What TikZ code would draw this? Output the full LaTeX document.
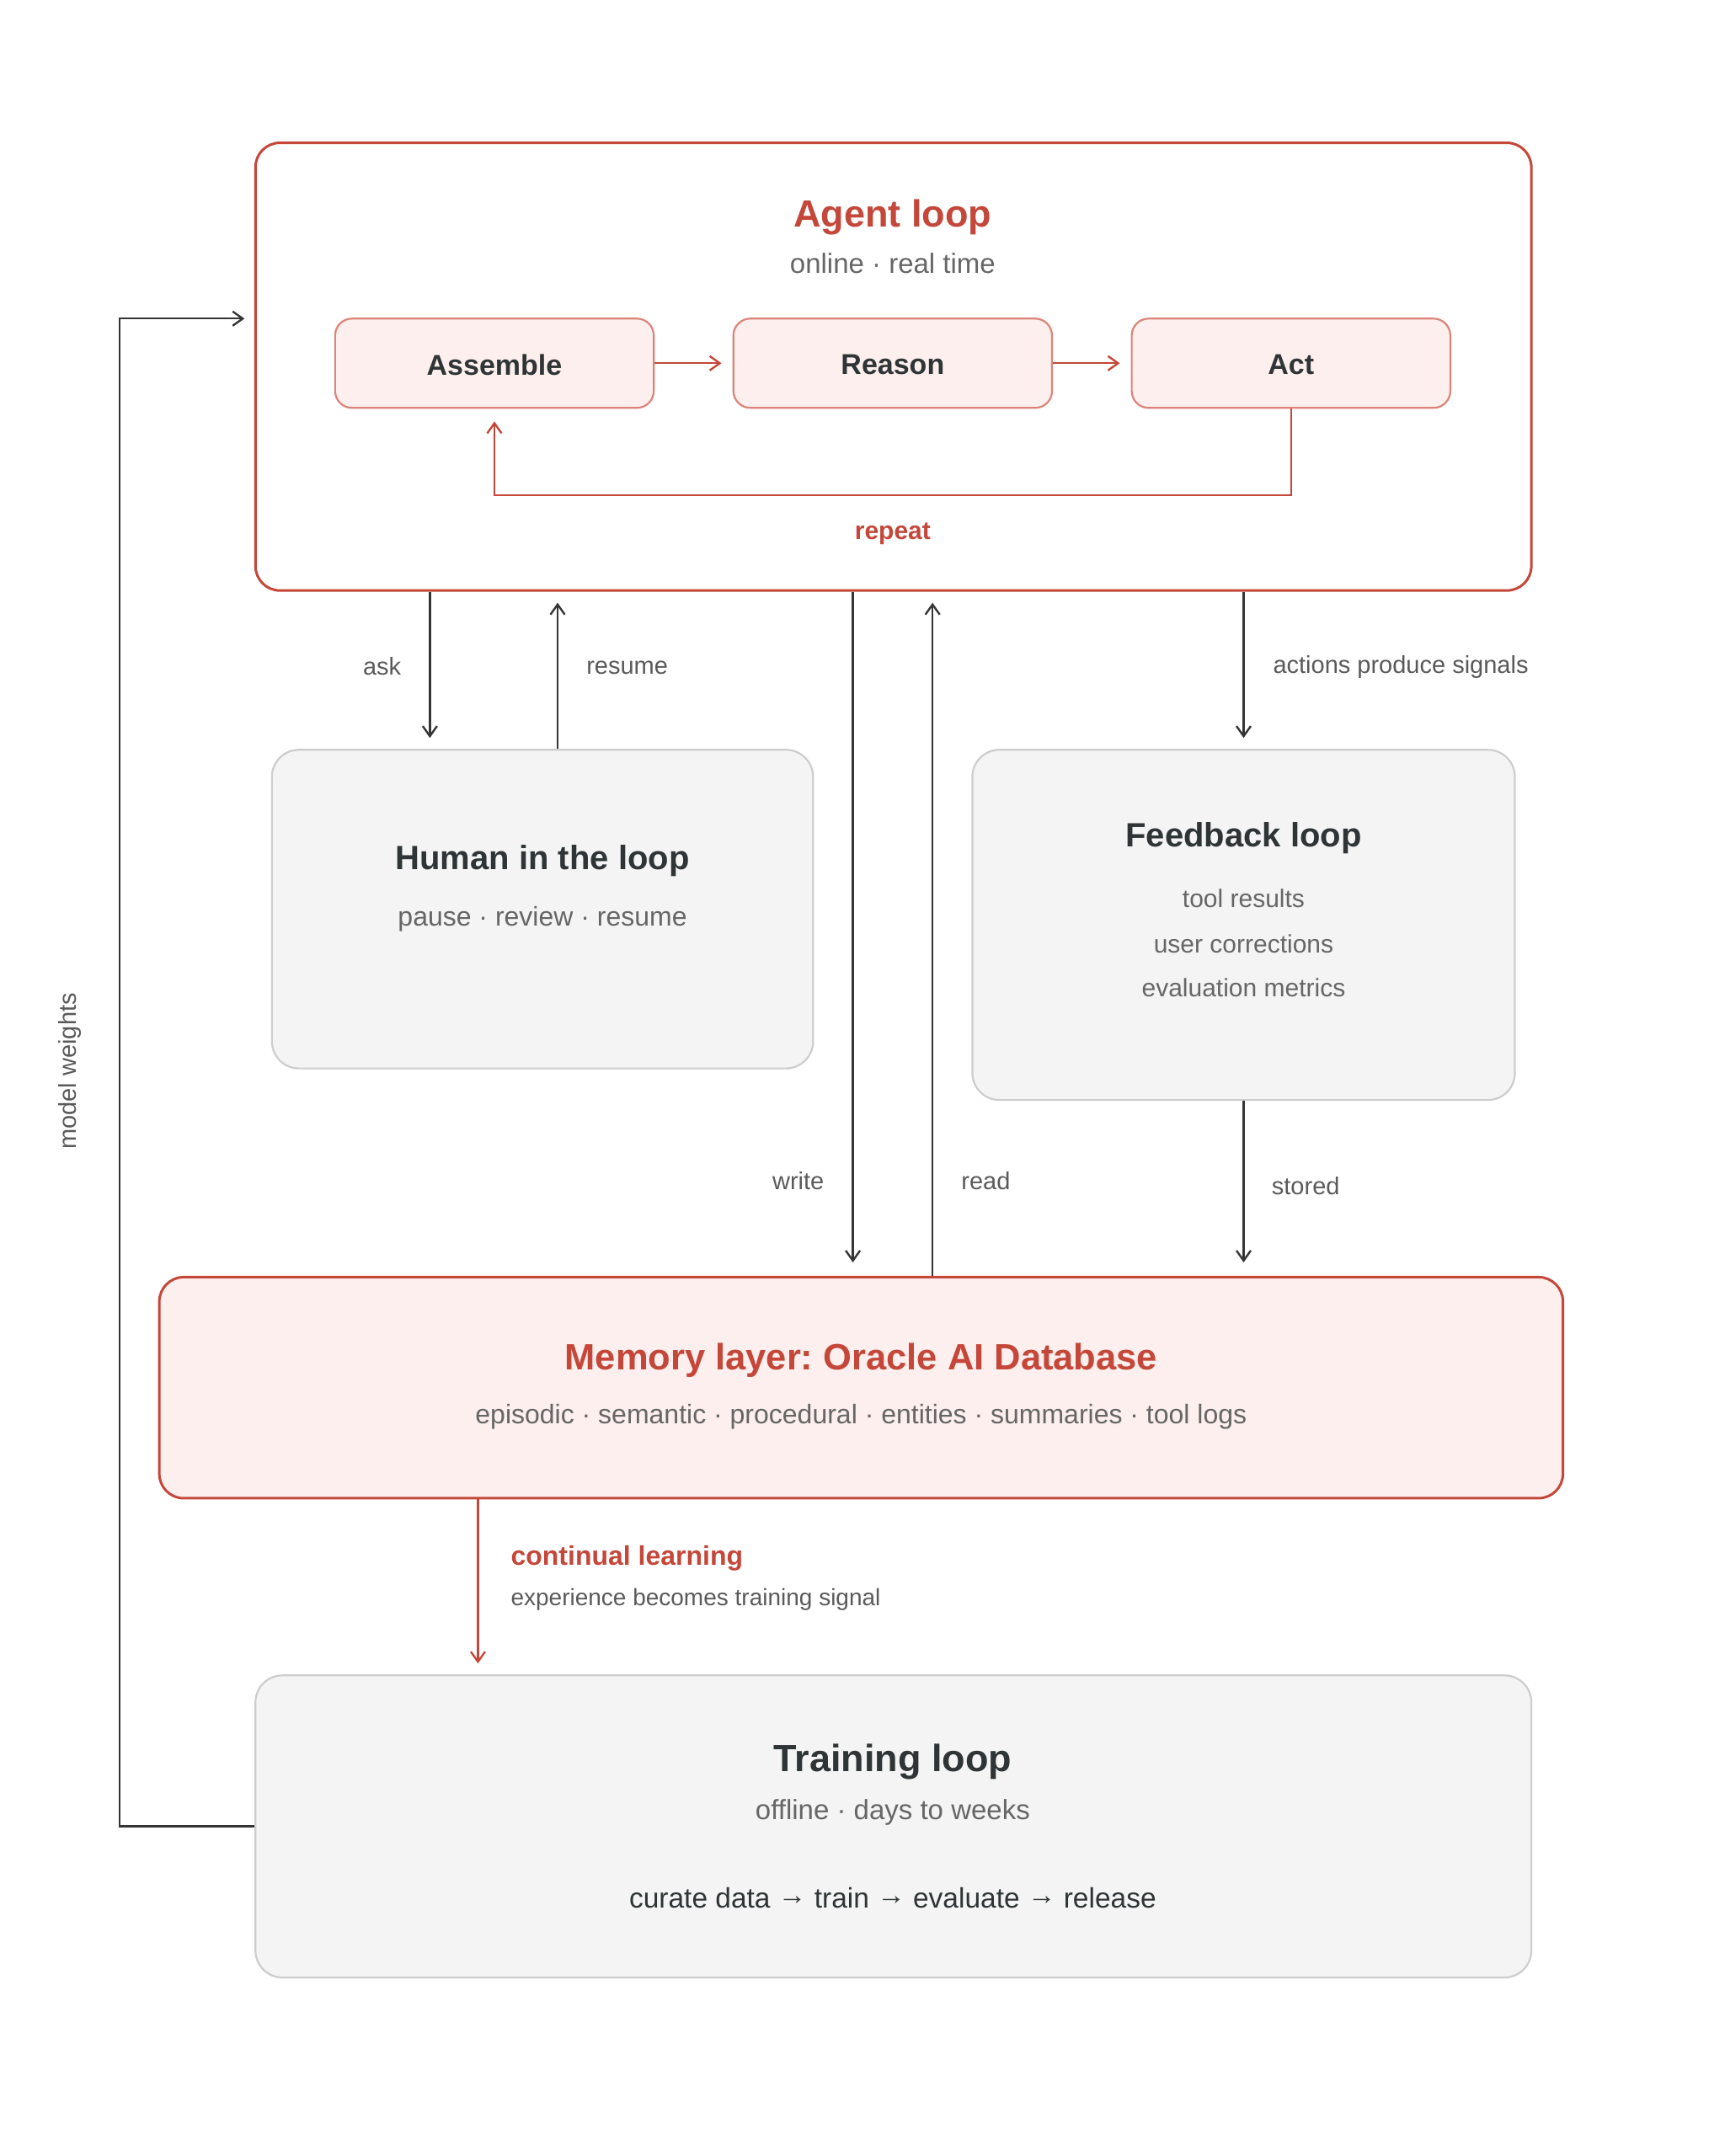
\documentclass[tikz,border=0pt]{standalone}
\usepackage{fontspec}
\setmainfont{Liberation Sans}
\usetikzlibrary{arrows.meta,fit,calc}
\definecolor{ored}{HTML}{C4473A}
\definecolor{oredlight}{HTML}{DC8479}
\definecolor{pinkfill}{HTML}{FCEFED}
\definecolor{grayfill}{HTML}{F4F4F4}
\definecolor{grayline}{HTML}{CDCDCD}
\definecolor{darkline}{HTML}{353535}
\definecolor{darktext}{HTML}{2F3536}
\definecolor{subtext}{HTML}{666666}
\definecolor{labeltext}{HTML}{5A5A5A}
\newcommand\myfs[1]{\fontsize{#1}{#1}\selectfont}
\newcommand\myarr{\raisebox{0.12em}{→}}
\frenchspacing
\begin{document}
\begin{tikzpicture}[x=1.6306pt,y=-1.6306pt,
  agentbox/.style={draw=ored, line width=3pt, rounded corners=29pt, fill=white, inner sep=0pt},
  stepbox/.style={draw=oredlight, fill=pinkfill, line width=2.2pt, rounded corners=20pt, inner sep=0pt},
  graybox/.style={draw=grayline, fill=grayfill, line width=2.2pt, rounded corners=32pt, inner sep=0pt},
  membox/.style={draw=ored, fill=pinkfill, line width=3pt, rounded corners=29pt, inner sep=0pt},
  txt/.style={inner sep=0pt, outer sep=0pt},
  redtitle/.style={txt, text=ored, font=\myfs{45}\bfseries},
  darktitle/.style={txt, text=darktext, font=\myfs{40}\bfseries},
  subtitle/.style={txt, text=subtext, font=\myfs{33}},
  steptext/.style={txt, text=darktext, font=\myfs{34}\bfseries},
  lbl/.style={txt, text=labeltext, font=\myfs{29}},
  itemtext/.style={txt, text=subtext, font=\myfs{30}},
  conn/.style={draw=darkline, line width=2.4pt, -{Straight Barb[length=12pt,width=17pt,line width=2.4pt]}},
  redconn/.style={conn, draw=ored},
]
\useasboundingbox (0,0) rectangle (1256,1570);
\fill[white] (0,0) rectangle (1256,1570);

% ---------- Agent loop ----------
\node[agentbox, fit={(186,104) (1115,430)}] (agent) {};
\node[redtitle] (agenttitle) at (650,158) {Agent loop};
\node[subtitle] (agentsub) at (650,191.5) {online · real time};

\node[stepbox, fit={(244,232) (476,297)}] (assemble) {};
\node[stepbox, fit={(534,232) (766,297)}] (reason) {};
\node[stepbox, fit={(824,232) (1056,297)}] (act) {};
\node[steptext] (tassemble) at ([yshift=-1.6pt]assemble.center) {Assemble};
\node[steptext] (treason) at ([yshift=-1.6pt]reason.center) {Reason};
\node[steptext] (tact) at ([yshift=-1.6pt]act.center) {Act};

\draw[redconn, shorten >=13pt] (assemble.east) -- (reason.west);
\draw[redconn, shorten >=13pt] (reason.east) -- (act.west);
\draw[redconn, shorten >=15pt] (act.south) -- ++(0,63) -| (assemble.south);
\node[txt, text=ored, font=\myfs{30}\bfseries] (repeat) at (650,389) {repeat};

% ---------- Human in the loop ----------
\node[graybox, fit={(198,546) (592,778)}] (human) {};
\node[darktitle] (humantitle) at (395,627) {Human in the loop};
\node[subtitle, font=\myfs{32}] (humansub) at (395,669.5) {pause · review · resume};

% ---------- Feedback loop ----------
\node[graybox, fit={(708,546) (1103,801)}] (feedback) {};
\node[darktitle] (fbtitle) at (905.5,610) {Feedback loop};
\node[itemtext] (fb1) at (905.5,654.5) {tool results};
\node[itemtext] (fb2) at (905.5,687.5) {user corrections};
\node[itemtext] (fb3) at (905.5,719.5) {evaluation metrics};

% ---------- Memory layer ----------
\node[membox, fit={(116,930) (1138,1091)}] (memory) {};
\node[redtitle, font=\myfs{43.5}\bfseries] (memtitle) at (627,990.5) {Memory layer: Oracle AI Database};
\node[subtitle, font=\myfs{32}] (memsub) at (627,1031.5) {episodic · semantic · procedural · entities · summaries · tool logs};

% ---------- Training loop ----------
\node[graybox, fit={(186,1220) (1115,1440)}] (training) {};
\node[darktitle, font=\myfs{45}\bfseries] (trtitle) at (650,1283) {Training loop};
\node[subtitle] (trsub) at (650,1319.5) {offline · days to weeks};
\node[txt, text=darktext, font=\myfs{33.5}] (trsteps) at (650,1382) {curate data \myarr{} train \myarr{} evaluate \myarr{} release};

% ---------- connectors ----------
\coordinate (xask) at (313,0);
\coordinate (xresume) at (406,0);
\coordinate (xwrite) at (621,0);
\coordinate (xread) at (679,0);
\coordinate (xcl) at (348,0);
\coordinate (xmw) at (87,0);
\coordinate (entry) at (186,232);

\draw[conn, shorten >=13pt] (agent.south -| xask) -- (human.north -| xask);
\draw[conn, shorten >=13pt] (human.north -| xresume) -- (agent.south -| xresume);
\draw[conn, shorten >=16pt] (agent.south -| xwrite) -- (memory.north -| xwrite);
\draw[conn, shorten >=13pt] (memory.north -| xread) -- (agent.south -| xread);
\draw[conn, shorten >=13pt] (agent.south -| feedback.north) -- (feedback.north);
\draw[conn, shorten >=16pt] (feedback.south) -- (memory.north -| feedback.south);
\draw[redconn, shorten >=13pt] (memory.south -| xcl) -- (training.north -| xcl);
\draw[conn, shorten >=13pt] (training.west) -- (training.west -| xmw) -- (xmw |- entry) -- (entry);

% ---------- labels ----------
\node[lbl, anchor=east] (lask) at (292,485) {ask};
\node[lbl, anchor=west] (lresume) at (427,486) {resume};
\node[lbl, anchor=west] (lsignals) at (927,486) {actions produce signals};
\node[lbl, anchor=east] (lwrite) at (600,860) {write};
\node[lbl, anchor=west] (lread) at (700,860) {read};
\node[lbl, anchor=west] (lstored) at (926,863.5) {stored};
\node[txt, anchor=west, text=ored, font=\myfs{32}\bfseries] (lcl) at (372,1134.5) {continual learning};
\node[lbl, anchor=west, font=\myfs{28}] (lexp) at (372,1165) {experience becomes training signal};
\node[lbl, rotate=90] (lmw) at (51,780) {model weights};
\end{tikzpicture}
\end{document}
